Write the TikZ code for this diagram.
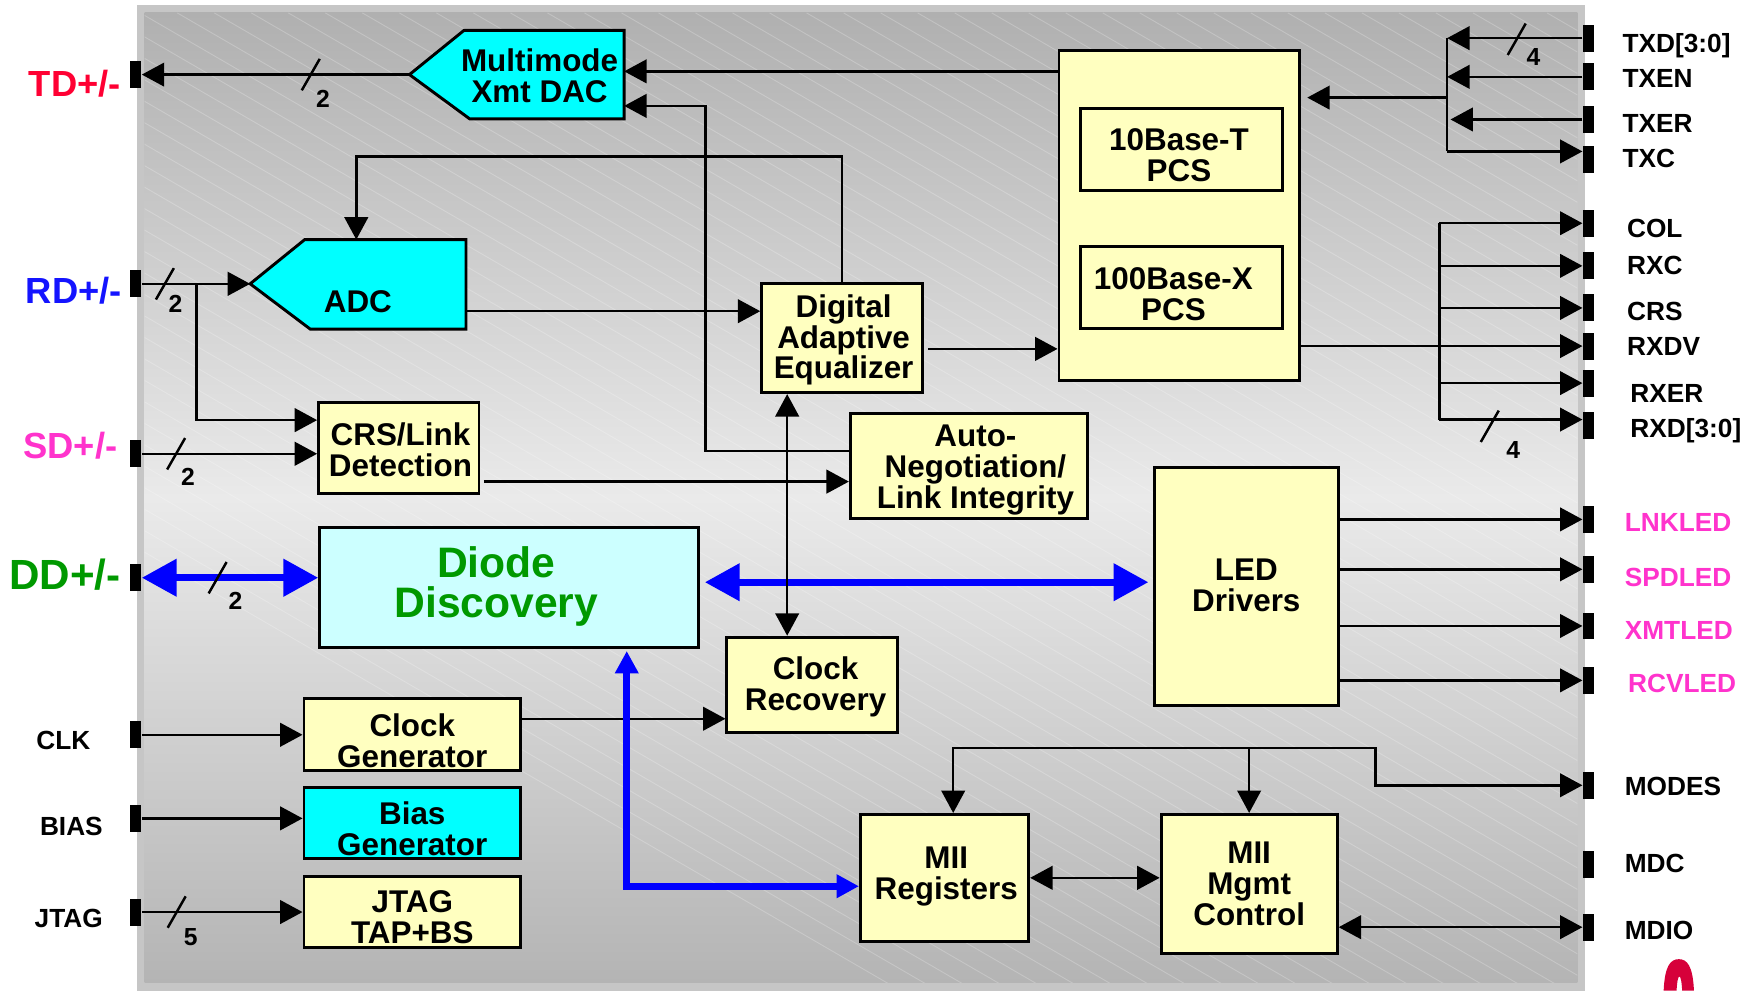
\documentclass[tikz,border=0pt]{standalone}
\usepackage{fontspec}
\setmainfont{Liberation Sans}
\usetikzlibrary{arrows.meta,calc}
\pgfdeclarelayer{ground}
\pgfdeclarelayer{shapes}
\pgfsetlayers{ground,shapes,main}

\definecolor{boxyellow}{RGB}{255,255,192}
\definecolor{cyanfill}{RGB}{0,255,255}
\definecolor{paleCyan}{RGB}{204,255,255}
\definecolor{busblue}{RGB}{0,0,255}
\definecolor{tdred}{RGB}{255,0,51}
\definecolor{rdblue}{RGB}{20,20,255}
\definecolor{ledpink}{RGB}{255,51,204}
\definecolor{ddgreen}{RGB}{0,153,0}
\definecolor{rimgray}{RGB}{198,198,198}
\definecolor{shadeA}{RGB}{176,176,176}
\definecolor{shadeB}{RGB}{234,234,234}
\definecolor{shadeC}{RGB}{180,180,180}
\definecolor{markred}{RGB}{214,0,58}

\tikzset{
  box/.style={draw=black, line width=1.3pt, fill=boxyellow, inner sep=0pt},
  btxt/.style={inner sep=0pt, align=center, font=\bfseries\fontsize{14}{13.8}\selectfont},
  pinbox/.style={fill=black, inner sep=0pt, minimum width=5pt, minimum height=12pt},
  conn/.style={line width=1.1pt},
  >={Triangle[length=10pt,width=10.5pt]},
  bigbus/.style={draw=busblue, line width=3.3pt,
    {Triangle[length=15.5pt,width=16pt]}-{Triangle[length=15.5pt,width=16pt]}},
  smallbus/.style={draw=busblue, line width=3.2pt,
    {Triangle[length=10pt,width=10pt]}-{Triangle[length=10pt,width=10pt]}},
  buswidth/.style={inner sep=0pt, font=\bfseries\fontsize{11}{12}\selectfont},
  slash/.style={line width=1.1pt},
  sigR/.style={anchor=west, inner sep=0pt, font=\bfseries\fontsize{11.7}{12}\selectfont,
    text height=8.4pt, text depth=0pt},
  sigL/.style={anchor=east, inner sep=0pt, font=\bfseries\fontsize{11.7}{12}\selectfont,
    text height=8.4pt, text depth=0pt},
  lineL/.style={anchor=east, inner sep=0pt, font=\bfseries\fontsize{16.2}{17}\selectfont,
    text height=11.6pt, text depth=0pt},
  pics/buscut/.style={code={\draw[slash] (-8,14) -- (8,-14);}},
}

\begin{document}
\begin{tikzpicture}[x=0.5pt,y=-0.5pt]
\useasboundingbox (0,0) rectangle (1568,883);

% chip body: grey rim, diagonal shading and faint hatching
\begin{pgfonlayer}{ground}
  \fill[rimgray] (122,4.5) rectangle (1413,883);
  \shade[shading angle=-45, top color=shadeA, bottom color=shadeC, middle color=shadeB]
    (129,11.5) rectangle (1406,876);
  \begin{scope}
    \clip (129,11.5) rectangle (1406,876);
    \foreach \i in {-700,-667,...,1420}
      \draw[white, opacity=0.22, line width=0.4pt] (\i,11.5) -- ++(1600,928);
  \end{scope}
\end{pgfonlayer}

% ---------- blocks ----------
\node[inner sep=0pt, minimum width=71pt, minimum height=39pt] (dac) at (485,66.5) {};
\node[btxt] (dact) at (481,67.3) {Multimode\\Xmt DAC};
\coordinate (dactip) at (365,66.5);

\node[inner sep=0pt, minimum width=71.5pt, minimum height=39.5pt] (adc) at (343.5,253.5) {};
\node[btxt] (adct) at (319,269) {ADC};
\coordinate (adctip) at (223,253);

\begin{pgfonlayer}{shapes}
  \draw[line width=1.3pt, fill=cyanfill] (dactip) -- (dac.north west) -- (dac.north east)
    -- (dac.south east) -- ($(dac.south west)+(5,0)$) -- cycle;
  \draw[line width=1.3pt, fill=cyanfill] (adctip) -- (adc.north west) -- (adc.north east)
    -- (adc.south east) -- ($(adc.south west)+(5,0)$) -- cycle;
\end{pgfonlayer}

\node[box, minimum width=107pt, minimum height=147pt] (pcs) at (1051,192) {};
\node[box, minimum width=90pt, minimum height=36.5pt] (pcs10) at (1053,133.5) {};
\node[btxt] (pcs10t) at (1051,138) {10Base-T\\PCS};
\node[box, minimum width=90pt, minimum height=36.5pt] (pcs100) at (1053,256.5) {};
\node[btxt] (pcs100t) at (1046,262) {100Base-X\\PCS};

\node[box, minimum width=71.5pt, minimum height=48.5pt] (deq) at (750.5,301.5) {};
\node[btxt] (deqt) at (752,303) {Digital\\Adaptive\\Equalizer};

\node[box, minimum width=71.5pt, minimum height=40.5pt] (crs) at (355.5,399.5) {};
\node[btxt] (crst) at (357,401) {CRS/Link\\Detection};

\node[box, minimum width=105.5pt, minimum height=46.5pt] (aneg) at (863.5,415.5) {};
\node[btxt] (anegt) at (869.5,419) {Auto-\\Negotiation/\\Link Integrity};

\node[box, fill=paleCyan, minimum width=169pt, minimum height=53.5pt] (diode) at (454,523.5) {};
\node[btxt, text=ddgreen, font=\bfseries\fontsize{19}{18}\selectfont] (diodet) at (442.5,522.8)
  {Diode\\Discovery};

\node[box, minimum width=76pt, minimum height=42.5pt] (crec) at (724,610.5) {};
\node[btxt] (crect) at (727,612) {Clock\\Recovery};

\node[box, minimum width=82pt, minimum height=106pt] (led) at (1111,523) {};
\node[btxt] (ledt) at (1111,521.5) {LED\\Drivers};

\node[box, minimum width=96.5pt, minimum height=32pt] (clkgen) at (367.5,655) {};
\node[btxt] (clkgent) at (367.5,660.4) {Clock\\Generator};
\node[box, fill=cyanfill, minimum width=96.5pt, minimum height=31.5pt] (biasgen) at (367.5,733.5) {};
\node[btxt] (biasgent) at (367.5,738.5) {Bias\\Generator};
\node[box, minimum width=96.5pt, minimum height=32pt] (jtag) at (367.5,813) {};
\node[btxt] (jtagt) at (367.5,818) {JTAG\\TAP+BS};

\node[box, minimum width=75pt, minimum height=56.5pt] (miireg) at (842,782.5) {};
\node[btxt] (miiregt) at (843.5,781) {MII\\Registers};
\node[box, minimum width=78.5pt, minimum height=62pt] (miimgmt) at (1113.5,788) {};
\node[btxt] (miimgmtt) at (1113.5,788) {MII\\Mgmt\\Control};

% ---------- pins ----------
\node[pinbox] (pTD) at (121,66.5) {};
\node[pinbox] (pRD) at (121,253) {};
\node[pinbox] (pSD) at (121,404.5) {};
\node[pinbox] (pDD) at (121,515) {};
\node[pinbox] (pCLK) at (121,655) {};
\node[pinbox] (pBIAS) at (121,729.5) {};
\node[pinbox] (pJTAG) at (121,813) {};

\node[pinbox] (pTXD) at (1416,34) {};
\node[pinbox] (pTXEN) at (1416,68.5) {};
\node[pinbox] (pTXER) at (1416,106.5) {};
\node[pinbox] (pTXC) at (1416,142) {};
\node[pinbox] (pCOL) at (1416,199) {};
\node[pinbox] (pRXC) at (1416,237) {};
\node[pinbox] (pCRS) at (1416,274.5) {};
\node[pinbox] (pRXDV) at (1416,308.5) {};
\node[pinbox] (pRXER) at (1416,341.5) {};
\node[pinbox] (pRXD) at (1416,379) {};
\node[pinbox] (pLNK) at (1416,463) {};
\node[pinbox] (pSPD) at (1416,507.5) {};
\node[pinbox] (pXMT) at (1416,558) {};
\node[pinbox] (pRCV) at (1416,606.5) {};
\node[pinbox] (pMODES) at (1416,700) {};
\node[pinbox] (pMDC) at (1416,770.5) {};
\node[pinbox] (pMDIO) at (1416,826.5) {};

% ---------- pin names ----------
\node[lineL, text=tdred] (lTD) at (108,74.6) {TD+/-};
\node[lineL, text=rdblue] (lRD) at (109,259) {RD+/-};
\node[lineL, text=ledpink] (lSD) at (105,397) {SD+/-};
\node[lineL, text=ddgreen, font=\bfseries\fontsize{18.8}{19}\selectfont, text height=13.4pt]
  (lDD) at (108,512) {DD+/-};
\node[sigL] (lCLK) at (81,660) {CLK};
\node[sigL] (lBIAS) at (92,736) {BIAS};
\node[sigL] (lJTAG) at (92,818) {JTAG};

\node[sigR] (lTXD) at (1446,38.4) {TXD[3:0]};
\node[sigR] (lTXEN) at (1446,70) {TXEN};
\node[sigR] (lTXER) at (1446,109.4) {TXER};
\node[sigR] (lTXC) at (1446,141) {TXC};
\node[sigR] (lCOL) at (1450,203) {COL};
\node[sigR] (lRXC) at (1450,236) {RXC};
\node[sigR] (lCRS) at (1450,277.4) {CRS};
\node[sigR] (lRXDV) at (1450,308.8) {RXDV};
\node[sigR] (lRXER) at (1453,350) {RXER};
\node[sigR] (lRXD) at (1453,382) {RXD[3:0]};
\node[sigR, text=ledpink] (lLNK) at (1448,465) {LNKLED};
\node[sigR, text=ledpink] (lSPD) at (1448,514) {SPDLED};
\node[sigR, text=ledpink] (lXMT) at (1448,561.4) {XMTLED};
\node[sigR, text=ledpink] (lRCV) at (1451,609) {RCVLED};
\node[sigR] (lMODES) at (1448,700.4) {MODES};
\node[sigR] (lMDC) at (1448,769) {MDC};
\node[sigR] (lMDIO) at (1448,829) {MDIO};

% ---------- line side ----------
\draw[conn,->] (dactip) -- (pTD.east);
\pic at (277,66.5) {buscut};
\node[buswidth] (wTD) at (288,88) {2};

\draw[conn,->] (pRD.east) -- (adctip);
\pic at (147,253) {buscut};
\node[buswidth] (wRD) at (156.5,270.5) {2};
\coordinate (rdtap) at (175,253);
\draw[conn,->] (rdtap) |- ($(crs.west)+(0,-25)$);

\draw[conn,->] (pSD.east) -- (crs.west |- pSD.east);
\pic at (157,404.5) {buscut};
\node[buswidth] (wSD) at (167.5,425) {2};

% ---------- receive / transmit datapath ----------
\coordinate (adcfb) at ($(adc.north west)+(46,0)$);
\draw[conn,->] (deq.north) -- ++(0,-112) -| (adcfb);

\coordinate (adcout) at ($(adc.south east)+(0,-16)$);
\draw[conn,->] (adcout) -- (deq.west |- adcout);

\coordinate (deqout) at ($(deq.east)+(4,9.5)$);
\draw[conn,->] (deqout) -- (pcs.west |- deqout);

\coordinate (dacin1) at ($(dac.north east)+(0,36.5)$);
\draw[conn,->] (pcs.west |- dacin1) -- (dacin1);

\coordinate (dacin2) at ($(dac.south east)+(0,-11.5)$);
\coordinate (anegout) at ($(aneg.north west)+(0,34.5)$);
\draw[conn,->] (anegout) -- ++(-128,0) |- (dacin2);

\coordinate (crsout) at ($(crs.south east)+(3,-12)$);
\draw[conn,->] (crsout) -- (aneg.west |- crsout);

\coordinate (cgout) at ($(clkgen.north east)+(0,19)$);
\draw[conn,->] (cgout) -- (crec.west |- cgout);

\draw[conn,->] (pCLK.east) -- (clkgen.west |- pCLK.east);
\draw[conn,->] (pBIAS.east) -- (biasgen.west |- pBIAS.east);
\draw[conn,->] (pJTAG.east) -- (jtag.west |- pJTAG.east);
\pic at (157.5,813) {buscut};
\node[buswidth] (wJT) at (170,835) {5};

% ---------- diode discovery buses ----------
\draw[bigbus] (pDD.east) -- (diode.west |- pDD.east);
\pic at (194,515) {buscut};
\node[buswidth] (wDD) at (210,536) {2};
\coordinate (ddl) at ($(diode.east)+(4,-4.5)$);
\draw[bigbus] (ddl) -- ($(led.west |- ddl)+(-4,0)$);
\coordinate (ddb) at ($(diode.south west)+(275,2)$);
\draw[smallbus] (ddb) |- ($(miireg.west)+(0,7.5)$);

\coordinate (eqclk) at ($(deq.south west)+(24,0)$);
\draw[conn,<->] (eqclk) -- (crec.north -| eqclk);

% ---------- management ----------
\draw[conn,<->] (miireg.east) -- (miimgmt.west |- miireg.east);
\coordinate (mreg) at ($(miireg.north west)+(84,0)$);
\coordinate (mbend) at (1226,667);
\draw[conn,<->] (mreg) |- (mbend) |- (pMODES.west);
\draw[conn,->] (miimgmt.north |- mbend) -- (miimgmt.north);
\draw[conn,<->] (miimgmt.east |- pMDIO.west) -- (pMDIO.west);

% ---------- LED outputs ----------
\draw[conn,->] (led.east |- pLNK.west) -- (pLNK.west);
\draw[conn,->] (led.east |- pSPD.west) -- (pSPD.west);
\draw[conn,->] (led.east |- pXMT.west) -- (pXMT.west);
\draw[conn,->] (led.east |- pRCV.west) -- (pRCV.west);

% ---------- MII receive ----------
\coordinate (rxtop) at (1283,199);
\coordinate (rxbot) at (1283,374);
\draw[conn] (rxtop) -- (rxbot);
\draw[conn,->] (rxtop) -- (pCOL.west);
\draw[conn,->] (rxtop |- pRXC.west) -- (pRXC.west);
\draw[conn,->] (rxtop |- pCRS.west) -- (pCRS.west);
\draw[conn,->] (rxtop |- pRXER.west) -- (pRXER.west);
\draw[conn,->] (rxbot) -- (pRXD.west |- rxbot);
\draw[conn,->] (pcs.east |- pRXDV.west) -- (pRXDV.west);
\pic at (1328,380) {buscut};
\node[buswidth] (wRX) at (1349,401) {4};

% ---------- MII transmit ----------
\coordinate (txtop) at (1290,34);
\coordinate (txbot) at (1290,135);
\draw[conn] (txtop) -- (txbot);
\draw[conn,->] (pTXD.west) -- (txtop);
\draw[conn,->] (pTXEN.west) -- (txtop |- pTXEN.west);
\draw[conn,->] (pTXER.west) -- ($(txtop |- pTXER.west)+(3,0)$);
\draw[conn,->] (txbot) -- (pTXC.west |- txbot);
\coordinate (txfeed) at (1290,87);
\draw[conn,->] (txfeed) -- ($(pcs.east |- txfeed)+(6,0)$);
\pic at (1352,35) {buscut};
\node[buswidth] (wTX) at (1367,51) {4};

% red mark at the lower edge
\fill[markred] (1483,883) .. controls (1484,861) and (1489,855) .. (1496.5,855)
  .. controls (1504,855) and (1509,861) .. (1510,883) -- (1499.5,883)
  .. controls (1499,874) and (1498,870.5) .. (1497,870.5)
  .. controls (1496,870.5) and (1495,874) .. (1494.5,883) -- cycle;
\end{tikzpicture}
\end{document}
